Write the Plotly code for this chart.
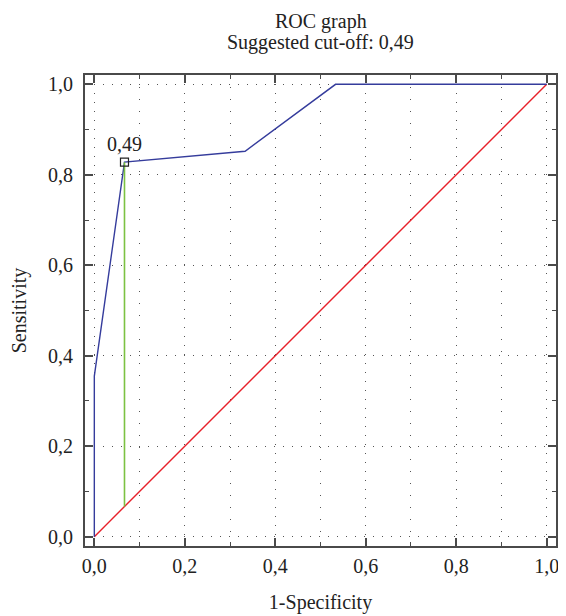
import plotly.graph_objects as go

# ROC curve points (1-Specificity, Sensitivity)
fpr = [0.0, 0.0, 0.0667, 0.3333, 0.5333, 1.0]
tpr = [0.0, 0.355, 0.828, 0.852, 1.0, 1.0]
# reference diagonal
diag_x = [0.0, 1.0]
diag_y = [0.0, 1.0]
# suggested cut-off
cut_label = "0,49"
cut_x = 0.0667
cut_y = 0.828

FONT = "Liberation Serif"
AX = "#4a4a4a"
FS = 20

fig = go.Figure()
fig.add_trace(go.Scatter(x=diag_x, y=diag_y, mode="lines",
                         line=dict(color="#e8202a", width=1.4), hoverinfo="skip"))
fig.add_trace(go.Scatter(x=fpr, y=tpr, mode="lines",
                         line=dict(color="#353c9c", width=1.4), hoverinfo="skip"))
fig.add_trace(go.Scatter(x=[cut_x, cut_x], y=[cut_x, cut_y], mode="lines",
                         line=dict(color="#7cc242", width=1.6), hoverinfo="skip"))
fig.add_trace(go.Scatter(x=[cut_x], y=[cut_y], mode="markers+text",
                         marker=dict(symbol="square-open", size=8,
                                     color="#222", line=dict(width=1.2)),
                         text=[cut_label], textposition="top center",
                         textfont=dict(family=FONT, size=FS, color="#222"),
                         hoverinfo="skip"))

axis_common = dict(
    range=[-0.0206, 1.0206], dtick=0.2, tick0=0, tickformat=".1f",
    showline=True, linecolor=AX, linewidth=2, mirror="ticks",
    ticks="inside", ticklen=8, tickwidth=1.5, tickcolor=AX,
    showgrid=True, gridcolor="#555", gridwidth=1, griddash="1px,8px",
    zeroline=False, automargin=False,
    tickfont=dict(family=FONT, size=FS, color="#222"),
)

fig.update_xaxes(**axis_common, ticklabelstandoff=1,
                 minor=dict(dtick=0.1, tick0=0, ticks="inside", ticklen=4,
                            tickcolor=AX, tickwidth=1.2, showgrid=True,
                            gridcolor="#555", gridwidth=1, griddash="1px,11px"),
                 title=dict(text="1-Specificity", font=dict(family=FONT, size=FS, color="#222"),
                            standoff=19))
fig.update_yaxes(**axis_common, ticklabelstandoff=6,
                 minor=dict(dtick=0.1, tick0=0, ticks="inside", ticklen=4,
                            tickcolor=AX, tickwidth=1.2, showgrid=False),
                 title=dict(text="Sensitivity", font=dict(family=FONT, size=FS, color="#222"),
                            standoff=18))

fig.add_annotation(text="ROC graph", x=0.5, y=1.114, xref="paper", yref="paper",
                   yanchor="middle", showarrow=False,
                   font=dict(family=FONT, size=FS, color="#222"))
fig.add_annotation(text="Suggested cut-off: 0,49", x=0.5, y=1.068, xref="paper", yref="paper",
                   yanchor="middle", showarrow=False,
                   font=dict(family=FONT, size=FS, color="#222"))

fig.update_layout(
    width=558, height=608,
    margin=dict(l=77, r=10, t=67, b=70, autoexpand=False),
    paper_bgcolor="white", plot_bgcolor="white",
    showlegend=False, separators=",.",
)

fig.write_html("out.html")
